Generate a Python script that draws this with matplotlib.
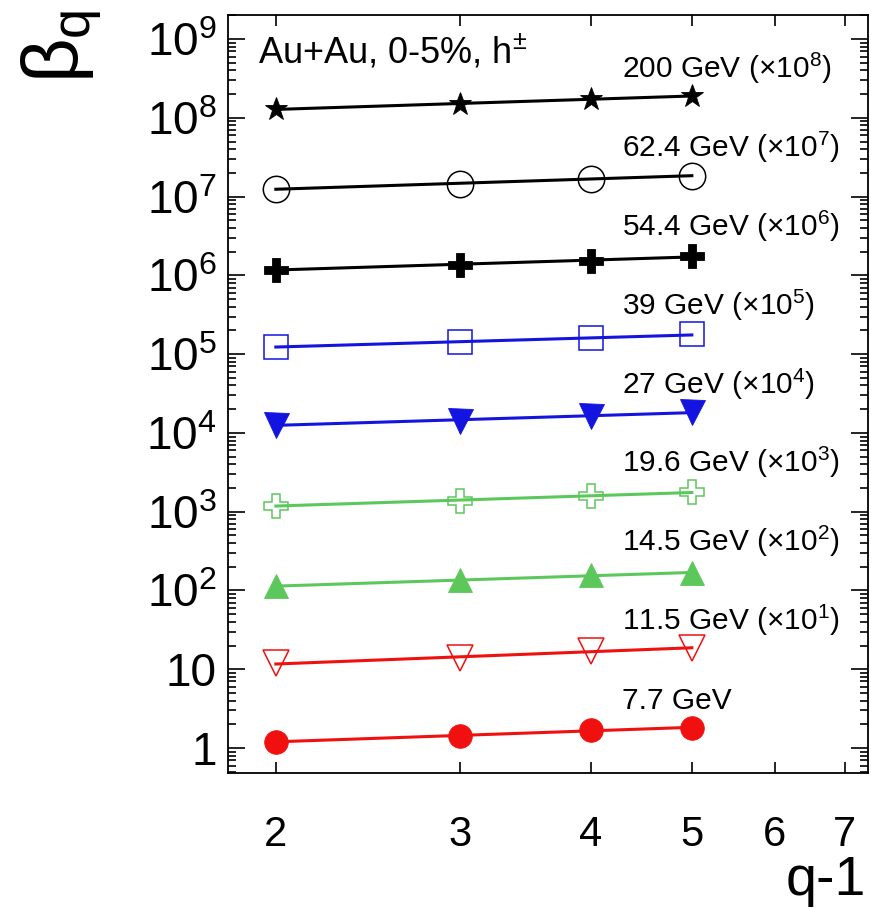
import numpy as np
import matplotlib
matplotlib.use("Agg")
import matplotlib.pyplot as plt
from matplotlib.ticker import FixedLocator, FixedFormatter, NullLocator

plt.rcParams['font.family'] = ['Liberation Sans', 'DejaVu Sans']
plt.rcParams['mathtext.fontset'] = 'custom'
plt.rcParams['mathtext.rm'] = 'Liberation Sans'
plt.rcParams['mathtext.it'] = 'Liberation Sans'
plt.rcParams['mathtext.bf'] = 'Liberation Sans'

# ---- data ----
q_minus_1 = [2, 3, 4, 5]
energies = ["7.7", "11.5", "14.5", "19.6", "27", "39", "54.4", "62.4", "200"]
scale_pow = [0, 1, 2, 3, 4, 5, 6, 7, 8]
beta_77 = [1.20, 1.43, 1.69, 1.81]
beta_115 = [1.19, 1.37, 1.71, 1.88]
beta_145 = [1.14, 1.34, 1.55, 1.69]
beta_196 = [1.19, 1.38, 1.60, 1.76]
beta_27 = [1.27, 1.42, 1.66, 1.83]
beta_39 = [1.24, 1.43, 1.58, 1.78]
beta_544 = [1.18, 1.37, 1.54, 1.74]
beta_624 = [1.25, 1.45, 1.68, 1.85]
beta_200 = [1.29, 1.49, 1.73, 1.90]
series = [beta_77, beta_115, beta_145, beta_196, beta_27, beta_39, beta_544, beta_624, beta_200]

red, green, blue, black = '#f01010', '#5cc85c', '#1414e0', '#000000'
colors = [red, red, green, green, blue, blue, black, black, black]
markers = ['o', 'v', '^', 'P', 'v', 's', 'P', 'o', '*']
filled = [True, False, True, False, True, False, True, False, True]
msizes = [17, 19, 17, 17, 18, 17, 17, 19, 17]

fig = plt.figure(figsize=(8.71, 9.08), dpi=100)
ax = fig.add_axes([228/871, 1-773/908, (868-228)/871, (773-15)/908])
ax.set_xscale('log')
ax.set_yscale('log')
ax.set_xlim(1.80, 7.37)
ax.set_ylim(10**-0.317, 10**9.305)

x = np.array(q_minus_1, dtype=float)
for vals, p, c, m, f, ms in zip(series, scale_pow, colors, markers, filled, msizes):
    y = np.array(vals) * 10.0**p
    # power-law fit line
    k, b = np.polyfit(np.log10(x), np.log10(y), 1)
    xf = np.array([x.min(), x.max()])
    ax.plot(xf, 10**(k*np.log10(xf)+b), color=c, lw=2.2, zorder=2)
    ax.plot(x, y, linestyle='none', marker=m, ms=ms,
            markerfacecolor=c if f else 'none', markeredgecolor=c,
            markeredgewidth=0.6 if f else 1.1, zorder=3)

for e, p in zip(energies, scale_pow):
    if p == 0:
        s = f"{e} GeV"
    else:
        s = f"{e} GeV ($\\times$10$^{{{p}}}$)"
    ax.text(4.29, 10**(p+0.50), s, fontsize=21.5, ha='left', va='baseline')

ax.text(0.047, 0.952, "Au+Au, 0-5%, h$^{\\pm}$", transform=ax.transAxes,
        fontsize=26, ha='left', va='center')

# ticks
xt = [2, 3, 4, 5, 6, 7]
ax.xaxis.set_major_locator(FixedLocator(xt))
ax.xaxis.set_major_formatter(FixedFormatter([str(v) for v in xt]))
ax.xaxis.set_minor_locator(NullLocator())
yt = [10.0**i for i in range(10)]
ylabels = ["1", "10"] + [f"$10^{{{i}}}$" for i in range(2, 10)]
ax.yaxis.set_major_locator(FixedLocator(yt))
ax.yaxis.set_major_formatter(FixedFormatter(ylabels))
ymin = [m*10.0**i for i in range(-1, 10) for m in range(2, 10)]
ax.yaxis.set_minor_locator(FixedLocator(ymin))

ax.tick_params(axis='both', which='both', direction='in', top=True, right=True, width=1.2)
ax.tick_params(axis='y', which='major', length=12, labelsize=33, pad=8)
ax.tick_params(axis='y', which='minor', length=6)
ax.tick_params(axis='x', which='major', length=8, labelsize=30, pad=30)
for sp in ax.spines.values():
    sp.set_linewidth(1.3)

fig.text(20/871, 1-10/908, r"$\beta_{q}$", fontsize=56, rotation=90, ha='left', va='top')
fig.text(866/871, 1-907/908, "q-1", fontsize=40, ha='right', va='bottom')

fig.savefig("out.png", dpi=100)
